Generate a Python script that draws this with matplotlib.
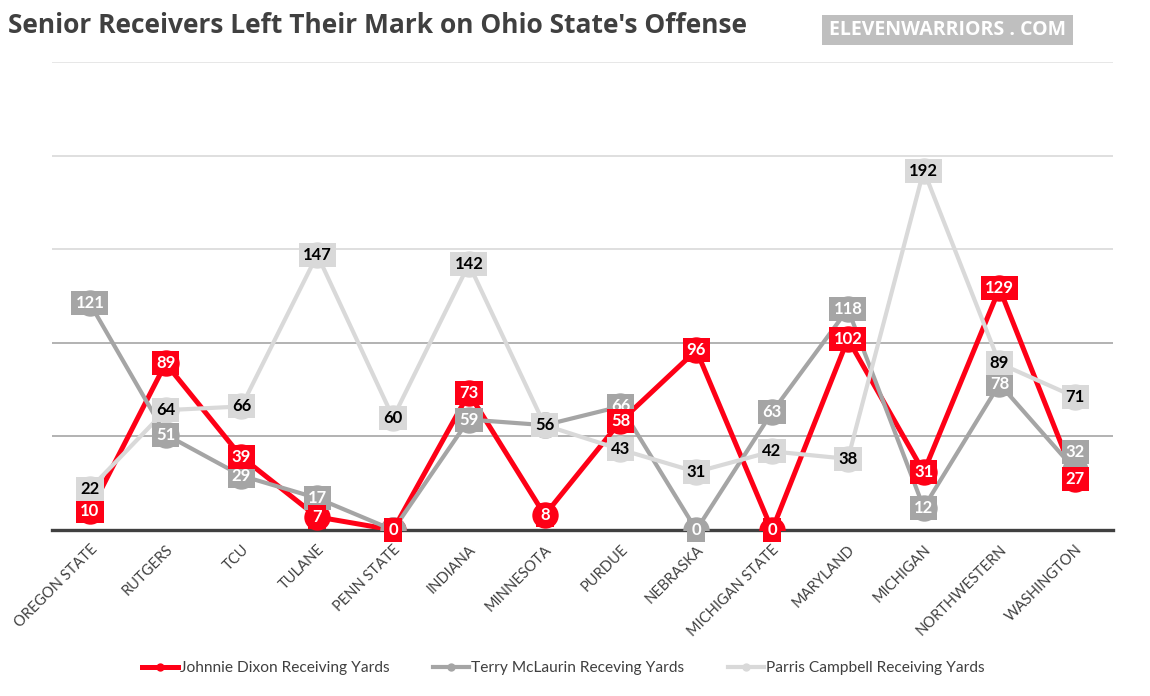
import matplotlib.pyplot as plt
from matplotlib.patches import Rectangle
from matplotlib.lines import Line2D

# opponents, 2018 season
games = ['OREGON STATE', 'RUTGERS', 'TCU', 'TULANE', 'PENN STATE', 'INDIANA',
         'MINNESOTA', 'PURDUE', 'NEBRASKA', 'MICHIGAN STATE', 'MARYLAND',
         'MICHIGAN', 'NORTHWESTERN', 'WASHINGTON']
dixon = [10, 89, 39, 7, 0, 73, 8, 58, 96, 0, 102, 31, 129, 27]
mclaurin = [121, 51, 29, 17, 0, 59, 56, 66, 0, 63, 118, 12, 78, 32]
campbell = [22, 64, 66, 147, 60, 142, 56, 43, 31, 42, 38, 192, 89, 71]
series_names = ['Johnnie Dixon Receiving Yards', 'Terry McLaurin Receving Yards',
                'Parris Campbell Receiving Yards']

RED = '#fe0016'
GRAY = '#a5a5a5'
LIGHT = '#d9d9d9'
DARK = '#404040'
BODY = ['Lato', 'DejaVu Sans']
HEAD = ['Open Sans', 'DejaVu Sans']

fig = plt.figure(figsize=(11.5, 6.96), dpi=100)
ax = fig.add_axes([0.0452, 0.2385, 0.9228, 0.6725])

x = list(range(len(games)))

# gridlines (the two lower ones are darker in the original)
for v, c in [(50, '#a6a6a6'), (100, '#a6a6a6'), (150, LIGHT), (200, LIGHT), (250, '#e3e3e3')]:
    ax.axhline(v, color=c, lw=1.2, zorder=1)

styles = [(dixon, RED, 3.6, 'white', 6),
          (mclaurin, GRAY, 3.0, 'white', 5),
          (campbell, LIGHT, 3.0, 'black', 7)]

# the washington label for McLaurin sits a bit higher, clear of Dixon's
nudge = {(1, 13): 13}

handles = []
for i, (vals, col, lw, tc, lz) in enumerate(styles):
    ax.plot(x, vals, color=col, lw=lw, marker='o', markersize=19,
            markeredgewidth=0, zorder=3 + i * 0.1, solid_capstyle='round')
    for xi, v in zip(x, vals):
        ax.annotate(str(v), (xi, v), xytext=(0, nudge.get((i, xi), 0)),
                    textcoords='offset points', ha='center', va='center',
                    color=tc, fontsize=12, fontweight='bold', family=BODY,
                    zorder=lz,
                    bbox=dict(boxstyle='square,pad=0.24', fc=col, ec='none'))
    handles.append(Line2D([0], [0], color=col, lw=lw, marker='o', markersize=6,
                          markeredgewidth=0))

ax.set_xlim(-0.5, len(games) - 0.5)
ax.set_ylim(0, 250)
ax.set_yticks([])
ax.set_xticks(x)
ax.set_xticklabels(games, rotation=45, ha='right', va='top', rotation_mode='anchor',
                   fontsize=10.5, family=BODY, color=DARK)
ax.tick_params(axis='x', length=0, pad=9)
for s in ['top', 'left', 'right']:
    ax.spines[s].set_visible(False)
ax.spines['bottom'].set_color(DARK)
ax.spines['bottom'].set_linewidth(2.4)
ax.spines['bottom'].set_zorder(2)

leg = fig.legend(handles, series_names, loc='center', bbox_to_anchor=(0.49, 0.04),
                 ncol=3, frameon=False, handlelength=2.3, handletextpad=0.15,
                 columnspacing=2.8, prop={'family': BODY, 'size': 11.2})
for t in leg.get_texts():
    t.set_color(DARK)

fig.text(0.007, 0.963, "Senior Receivers Left Their Mark on Ohio State's Offense",
         fontsize=19, fontweight='bold', family=HEAD, color=DARK, va='center')

fig.patches.append(Rectangle((0.7148, 0.9353), 0.2183, 0.0431, transform=fig.transFigure,
                             fc='#bfbfbf', ec='none'))
fig.text(0.8239, 0.9569, 'ELEVENWARRIORS . COM', fontsize=14, fontweight='bold',
         family=HEAD, color='white', ha='center', va='center')

fig.savefig('out.png', dpi=100)
